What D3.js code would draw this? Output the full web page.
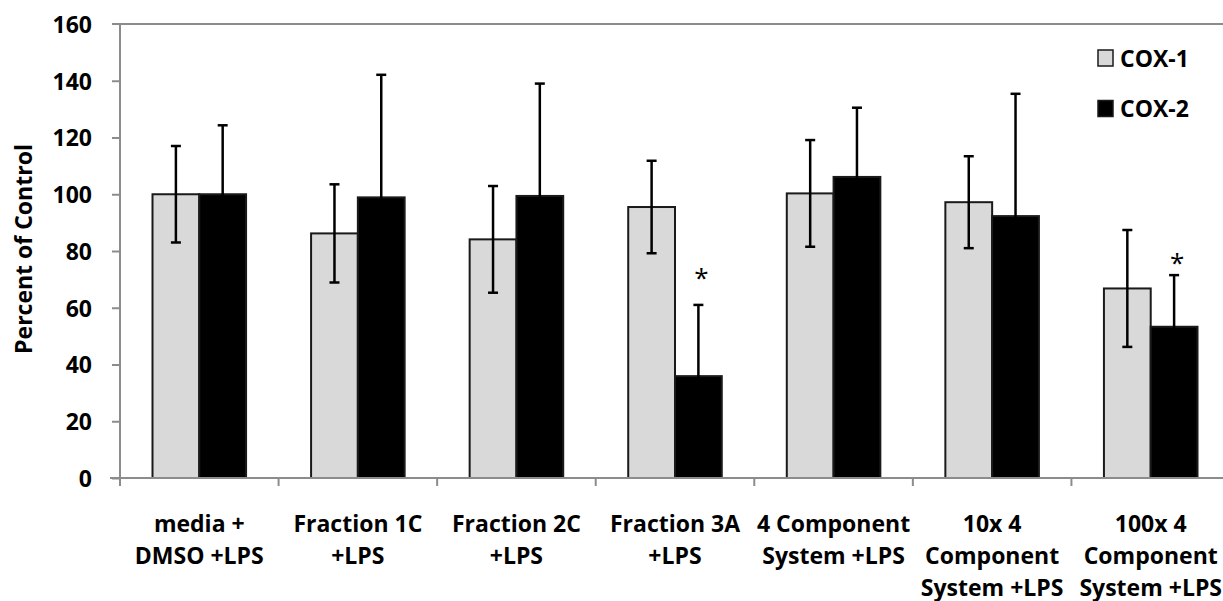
<!DOCTYPE html>
<html><head><meta charset="utf-8">
<script src="https://cdn.jsdelivr.net/npm/d3@7"></script>
<style>
html,body{margin:0;padding:0;background:#fff;}
svg{display:block;}
text{font-family:"Open Sans",Lato,sans-serif;font-weight:bold;fill:#000;}
</style></head>
<body><svg id="c" width="1223" height="601"></svg>
<script>
const categories = [
  ["media +","DMSO +LPS"],
  ["Fraction 1C","+LPS"],
  ["Fraction 2C","+LPS"],
  ["Fraction 3A","+LPS"],
  ["4 Component","System +LPS"],
  ["10x 4","Component","System +LPS"],
  ["100x 4","Component","System +LPS"]
];
const seriesNames = ["COX-1","COX-2"];
const cox1 = [100, 86.2, 84.1, 95.5, 100.3, 97.2, 66.8];
const cox1Err = [17, 17.3, 18.8, 16.3, 18.8, 16.2, 20.6];
const cox2 = [100, 98.9, 99.4, 35.9, 106.1, 92.3, 53.3];
const cox2Err = [24.3, 43.2, 39.6, 25.1, 24.4, 43.1, 18.2];
const cox2StarAt = [null, null, null, 72.2, null, null, 77.5];
const yTicks = [0,20,40,60,80,100,120,140,160];

(function(){
const svg = d3.select("#c");
const mLeft = 120, mRight = 1230, mTop = 24, mBottom = 478;
const x = d3.scaleBand().domain(d3.range(categories.length)).range([mLeft, mRight]).padding(0);
const y = d3.scaleLinear().domain([0,160]).range([mBottom, mTop]);
const groupFrac = 0.59;
const barW = x.bandwidth()*groupFrac/2;
const colors = ["#d9d9d9","#000000"];
const axisCol = "#8c8c8c";
const FS = "23px";

// top gridline
svg.append("line").attr("x1",mLeft).attr("x2",1223).attr("y1",y(160)).attr("y2",y(160))
  .attr("stroke",axisCol).attr("stroke-width",2);

// y axis
const yAxis = d3.axisLeft(y).tickValues(yTicks).tickSize(8).tickPadding(20).tickFormat(d3.format("d"));
const ga = svg.append("g").attr("transform",`translate(${mLeft},0)`).call(yAxis);
ga.select(".domain").attr("stroke",axisCol).attr("stroke-width",2).attr("d",`M-8,${mTop}H0V${mBottom+8}`);
ga.selectAll(".tick line").attr("stroke",axisCol).attr("stroke-width",2);
ga.selectAll(".tick text").style("font-size",FS).style("font-family","Open Sans").style("font-weight","bold").attr("fill","#000").attr("dy","0.36em");
ga.selectAll(".tick").filter(d=>d===160).select("line").remove();

// bars
const data = categories.map((c,i)=>({i, vals:[cox1[i],cox2[i]], errs:[cox1Err[i],cox2Err[i]], star:cox2StarAt[i]}));
const g = svg.append("g");
data.forEach(d=>{
  const x0 = x(d.i) + x.bandwidth()*(1-groupFrac)/2;
  d.vals.forEach((v,s)=>{
    g.append("rect").attr("x",x0+s*barW).attr("y",y(v)).attr("width",barW).attr("height",y(0)-y(v))
      .attr("fill",colors[s]).attr("stroke","#1a1a1a").attr("stroke-width",2);
  });
  d.vals.forEach((v,s)=>{
    const cx = x0+s*barW+barW/2;
    const e = d.errs[s];
    g.append("line").attr("x1",cx).attr("x2",cx).attr("y1",y(v+e)).attr("y2",y(v-e)).attr("stroke","#000").attr("stroke-width",2.5);
    [v+e, v-e].forEach(w=>{
      g.append("line").attr("x1",cx-5).attr("x2",cx+5).attr("y1",y(w)).attr("y2",y(w)).attr("stroke","#000").attr("stroke-width",2.5);
    });
    if(s===1 && d.star!=null){
      g.append("text").attr("x",cx+3).attr("y",y(d.star)+14).attr("text-anchor","middle")
        .style("font-size","26px").style("font-weight","normal").text("*");
    }
  });
});

// x axis
svg.append("line").attr("x1",mLeft-10).attr("x2",1223).attr("y1",mBottom).attr("y2",mBottom).attr("stroke",axisCol).attr("stroke-width",2);
d3.range(categories.length+1).forEach(i=>{
  const xx = i<categories.length ? x(i) : mRight;
  svg.append("line").attr("x1",xx).attr("x2",xx).attr("y1",mBottom).attr("y2",mBottom+8).attr("stroke",axisCol).attr("stroke-width",2);
});
categories.forEach((lines,i)=>{
  const t = svg.append("text").attr("x",x(i)+x.bandwidth()/2).attr("text-anchor","middle").style("font-size",FS);
  lines.forEach((ln,k)=>{
    t.append("tspan").attr("x",x(i)+x.bandwidth()/2).attr("y",532+k*32).text(ln);
  });
});

// y title
svg.append("text").attr("transform","translate(32,249) rotate(-90)").attr("text-anchor","middle")
  .style("font-size",FS).text("Percent of Control");

// legend
seriesNames.forEach((n,s)=>{
  const ly = 50 + s*50.5;
  svg.append("rect").attr("x",1098).attr("y",ly).attr("width",15).attr("height",16)
    .attr("fill",colors[s]).attr("stroke","#1a1a1a").attr("stroke-width",1.5);
  svg.append("text").attr("x",1120).attr("y",ly+16.5).style("font-size",FS).text(n);
});
})();
</script></body></html>
